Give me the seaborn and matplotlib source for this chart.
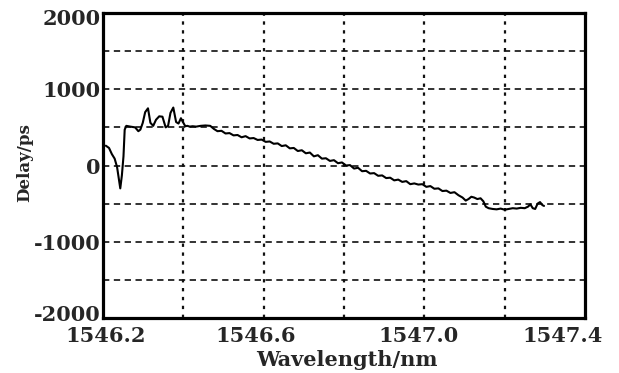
import numpy as np
import pandas as pd
import seaborn as sns
import matplotlib.pyplot as plt
import matplotlib.transforms as mtransforms

wavelength = [
    1546.207, 1546.215, 1546.222, 1546.229, 1546.235, 1546.240, 1546.243, 1546.247,
    1546.251, 1546.254, 1546.258, 1546.268, 1546.280, 1546.288, 1546.293, 1546.299,
    1546.305, 1546.312, 1546.318, 1546.325, 1546.332, 1546.340, 1546.348, 1546.356,
    1546.362, 1546.368, 1546.375, 1546.382, 1546.388, 1546.394, 1546.400, 1546.405,
    1546.410, 1546.416, 1546.423, 1546.432, 1546.443, 1546.455, 1546.467, 1546.476,
    1546.485, 1546.495, 1546.505, 1546.515, 1546.525, 1546.535, 1546.545, 1546.555,
    1546.565, 1546.575, 1546.585, 1546.595, 1546.605, 1546.615, 1546.625, 1546.635,
    1546.645, 1546.655, 1546.665, 1546.675, 1546.685, 1546.695, 1546.705, 1546.715,
    1546.725, 1546.735, 1546.745, 1546.755, 1546.765, 1546.775, 1546.785, 1546.795,
    1546.805, 1546.815, 1546.825, 1546.835, 1546.845, 1546.855, 1546.865, 1546.875,
    1546.885, 1546.895, 1546.905, 1546.915, 1546.925, 1546.935, 1546.945, 1546.955,
    1546.965, 1546.975, 1546.985, 1546.995, 1547.005, 1547.015, 1547.025, 1547.035,
    1547.045, 1547.055, 1547.065, 1547.075, 1547.085, 1547.095, 1547.103, 1547.110,
    1547.117, 1547.124, 1547.132, 1547.140, 1547.147, 1547.153, 1547.160, 1547.170,
    1547.180, 1547.190, 1547.200, 1547.210, 1547.220, 1547.230, 1547.240, 1547.250,
    1547.258, 1547.264, 1547.270, 1547.276, 1547.282, 1547.288, 1547.294, 1547.298,
]
delay = [
    260, 230, 150, 90, -20, -200, -300, -130,
    120, 470, 520, 510, 500, 450, 470, 560,
    700, 750, 560, 520, 600, 645, 640, 500,
    520, 690, 760, 570, 550, 620, 560, 515,
    520, 510, 515, 510, 520, 525, 520, 480,
    450, 455, 420, 425, 395, 400, 370, 385,
    355, 360, 335, 340, 310, 315, 285, 290,
    255, 265, 225, 230, 190, 200, 160, 170,
    120, 135, 90, 95, 60, 70, 30, 40,
    0, 5, -40, -30, -75, -70, -105, -100,
    -135, -130, -165, -160, -195, -185, -215, -205,
    -245, -235, -250, -245, -280, -270, -305, -300,
    -335, -330, -360, -350, -390, -420, -460, -440,
    -410, -420, -440, -430, -470, -540, -560, -570,
    -575, -565, -580, -570, -560, -565, -555, -560,
    -540, -510, -560, -570, -500, -480, -520, -530,
]

df = pd.DataFrame({"Wavelength": wavelength, "Delay": delay})

sns.set_style("white")
plt.rcParams["font.family"] = ["DejaVu Serif"]

fig = plt.figure(figsize=(6.19, 3.73), dpi=100)
ax = fig.add_axes([103 / 619, 1 - 318 / 373, 482 / 619, 305 / 373])

sns.lineplot(data=df, x="Wavelength", y="Delay", sort=False, color="black",
             linewidth=1.5, ax=ax)

ax.set_xlim(1546.2, 1547.4)
ax.set_ylim(-2000, 2000)

ax.set_xticks([1546.2, 1546.6, 1547.0, 1547.4])
ax.set_xticklabels(["1546.2", "1546.6", "1547.0", "1547.4"])
ax.set_yticks([-2000, -1000, 0, 1000, 2000])
ax.set_yticklabels(["-2000", "-1000", "0", "1000", "2000"])

ax.tick_params(axis="both", which="both", length=0)
ax.tick_params(axis="x", pad=6, labelsize=15)
ax.tick_params(axis="y", pad=2, labelsize=15)
for lab in ax.get_xticklabels() + ax.get_yticklabels():
    lab.set_fontweight("bold")

# nudge labels to sit where the original put them
shifts = [3, -8, -6, -22]
for lab, dx in zip(ax.get_xticklabels(), shifts):
    lab.set_transform(lab.get_transform() + mtransforms.ScaledTranslation(dx / 100, 0, fig.dpi_scale_trans))
yshifts = [5, 0, 0, 0, -4]
for lab, dy in zip(ax.get_yticklabels(), yshifts):
    lab.set_transform(lab.get_transform() + mtransforms.ScaledTranslation(0, dy / 100, fig.dpi_scale_trans))

# grid: dashed horizontals, dotted verticals
for y in [-1500, -1000, -500, 0, 500, 1000, 1500]:
    ax.axhline(y, color="#222222", linewidth=1.3, linestyle=(0, (3.5, 2.5)), zorder=1)
for x in [1546.4, 1546.6, 1546.8, 1547.0, 1547.2]:
    ax.axvline(x, color="#111111", linewidth=1.6, linestyle=(0, (1.5, 2.5)), zorder=1)

for s in ax.spines.values():
    s.set_color("black")
    s.set_linewidth(2.3)

ax.set_xlabel("Wavelength/nm", fontsize=15, fontweight="bold", labelpad=0)
ax.set_ylabel("Delay/ps", fontsize=12, fontweight="bold", labelpad=6)
ax.xaxis.set_label_coords(0.506, -0.105)
ax.yaxis.set_label_coords(-0.145, 0.508)

fig.savefig("out.png", dpi=100)
